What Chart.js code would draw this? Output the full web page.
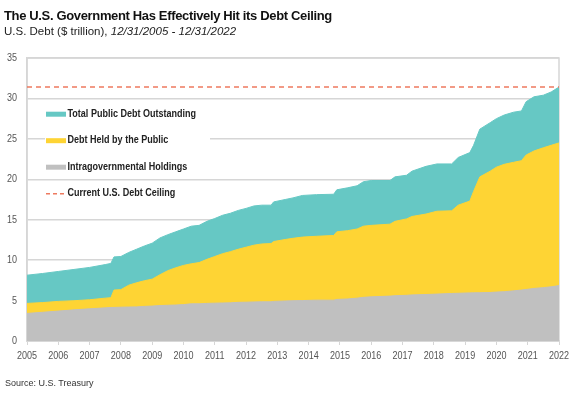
<!DOCTYPE html>
<html>
<head>
<meta charset="utf-8">
<script src="https://cdn.jsdelivr.net/npm/chart.js@4.4.1/dist/chart.umd.min.js"></script>
<style>
  html, body { margin: 0; padding: 0; background: #fff; }
  #wrap { position: relative; width: 573px; height: 399px; overflow: hidden; }
  #chart { position: absolute; left: 0; top: 0; }
  .title { position: absolute; left: 4px; top: 8px; font: bold 13px "Liberation Sans", Arial, sans-serif; letter-spacing: -0.35px; color: #111; white-space: nowrap; }
  .subtitle { position: absolute; left: 4px; top: 25px; font: 11.5px "Liberation Sans", Arial, sans-serif; color: #222; white-space: nowrap; }
  .source { position: absolute; left: 5px; top: 378px; font: 9px "Liberation Sans", Arial, sans-serif; color: #333; white-space: nowrap; }
</style>
</head>
<body>
<div id="wrap">
  <canvas id="chart" width="573" height="399"></canvas>
  <div class="title">The U.S. Government Has Effectively Hit its Debt Ceiling</div>
  <div class="subtitle">U.S. Debt ($ trillion), <i>12/31/2005 - 12/31/2022</i></div>
  <div class="source">Source: U.S. Treasury</div>
</div>
<script>
// x positions as decimal years
const dates = [
  2005.00, 2005.50, 2006.00, 2006.50, 2007.00, 2007.50, 2007.68, 2007.78, 2008.00, 2008.25,
  2008.50, 2008.75, 2009.00, 2009.25, 2009.50, 2009.75, 2010.00, 2010.25, 2010.50, 2010.75,
  2011.00, 2011.25, 2011.50, 2011.75, 2012.00, 2012.25, 2012.50, 2012.80, 2012.88, 2013.25,
  2013.50, 2013.80, 2014.25, 2014.80, 2014.90, 2015.25, 2015.55, 2015.75, 2016.00, 2016.60,
  2016.76, 2017.13, 2017.30, 2017.75, 2018.10, 2018.57, 2018.78, 2019.15, 2019.27, 2019.47,
  2019.80, 2020.00, 2020.25, 2020.55, 2020.80, 2020.95, 2021.20, 2021.50, 2021.75, 2022.00
];
// $ trillion
const totalDebt = [
  8.14, 8.35, 8.60, 8.85, 9.10, 9.45, 9.60, 10.40, 10.45, 10.95,
  11.35, 11.75, 12.10, 12.75, 13.15, 13.50, 13.85, 14.20, 14.30, 14.80,
  15.15, 15.55, 15.80, 16.15, 16.40, 16.70, 16.80, 16.80, 17.20, 17.50,
  17.70, 18.00, 18.10, 18.15, 18.70, 18.95, 19.20, 19.70, 19.85, 19.85,
  20.30, 20.50, 21.00, 21.60, 21.90, 21.90, 22.70, 23.30, 24.20, 26.20,
  27.00, 27.50, 27.95, 28.30, 28.45, 29.60, 30.20, 30.40, 30.80, 31.40
];
const publicDebt = [
  4.65, 4.75, 4.90, 4.98, 5.10, 5.30, 5.36, 6.30, 6.35, 6.90,
  7.20, 7.45, 7.65, 8.20, 8.70, 9.05, 9.35, 9.55, 9.70, 10.10,
  10.45, 10.80, 11.05, 11.35, 11.60, 11.85, 12.00, 12.05, 12.30, 12.55,
  12.70, 12.85, 12.95, 13.05, 13.50, 13.65, 13.85, 14.20, 14.30, 14.45,
  14.80, 15.10, 15.40, 15.70, 16.05, 16.10, 16.80, 17.30, 18.50, 20.30,
  21.00, 21.50, 21.85, 22.10, 22.30, 23.00, 23.50, 23.90, 24.20, 24.50
];
const intragovDebt = [
  3.41, 3.55, 3.70, 3.85, 3.98, 4.10, 4.15, 4.15, 4.18, 4.20,
  4.22, 4.28, 4.32, 4.38, 4.42, 4.45, 4.50, 4.60, 4.60, 4.65,
  4.68, 4.70, 4.72, 4.78, 4.80, 4.83, 4.85, 4.85, 4.90, 4.95,
  4.98, 5.00, 5.05, 5.05, 5.14, 5.20, 5.30, 5.40, 5.46, 5.55,
  5.60, 5.65, 5.70, 5.75, 5.80, 5.88, 5.90, 5.95, 5.96, 5.97,
  6.00, 6.05, 6.10, 6.20, 6.30, 6.37, 6.50, 6.60, 6.70, 6.85
];
const debtCeiling = 31.4;
const yearTicks = [2005, 2022];
const yTicks = [0, 35, 5];

const TEAL = '#66c8c4';
const YELLOW = '#fed434';
const GRAY = '#c0c0c0';
const DASH = '#ee7a5f';
const GRID = '#d6d6d6';
const NARROW = 0.82; // squeeze Liberation Sans to look like a narrow face

function pts(vals) {
  return dates.map((d, i) => ({ x: d, y: vals[i] }));
}

function narrowText(ctx, text, x, y, align) {
  ctx.save();
  ctx.translate(x, y);
  ctx.scale(NARROW, 1);
  ctx.textAlign = align;
  ctx.fillText(text, 0, 0);
  ctx.restore();
}

// legend drawn inside the plot, top-left
const legendItems = [
  { label: 'Total Public Debt Outstanding', color: TEAL, dash: false },
  { label: 'Debt Held by the Public', color: YELLOW, dash: false },
  { label: 'Intragovernmental Holdings', color: GRAY, dash: false },
  { label: 'Current U.S. Debt Ceiling', color: DASH, dash: true }
];

const framePlugin = {
  id: 'frame',
  beforeDatasetsDraw(chart) {
    const a = chart.chartArea, ctx = chart.ctx;
    ctx.save();
    ctx.strokeStyle = GRID;
    ctx.lineWidth = 1.5;
    ctx.strokeRect(a.left, a.top, a.right - a.left, a.bottom - a.top);
    ctx.restore();
  }
};

// tick labels, placed with the chart's own scales
const tickPlugin = {
  id: 'narrowTicks',
  afterDraw(chart) {
    const ctx = chart.ctx, xs = chart.scales.x, ys = chart.scales.y;
    ctx.save();
    ctx.font = '11px "Liberation Sans", Arial, sans-serif';
    ctx.fillStyle = '#555';
    ctx.textBaseline = 'middle';
    xs.ticks.forEach(t => {
      narrowText(ctx, String(t.value), xs.getPixelForValue(t.value), xs.bottom - 5.5, 'center');
    });
    ys.ticks.forEach(t => {
      narrowText(ctx, String(t.value), ys.right - 10, ys.getPixelForValue(t.value), 'right');
    });
    ctx.restore();
  }
};

const legendPlugin = {
  id: 'innerLegend',
  afterDraw(chart) {
    const ctx = chart.ctx;
    ctx.save();
    ctx.fillStyle = '#fff';
    ctx.fillRect(45, 101, 165, 73);
    ctx.font = 'bold 11px "Liberation Sans", Arial, sans-serif';
    ctx.textBaseline = 'middle';
    legendItems.forEach((it, i) => {
      const y = 113.7 + i * 26.5;
      if (it.dash) {
        ctx.strokeStyle = it.color;
        ctx.lineWidth = 1.5;
        ctx.setLineDash([4, 3]);
        ctx.beginPath();
        ctx.moveTo(46, y + 0.5);
        ctx.lineTo(66, y + 0.5);
        ctx.stroke();
        ctx.setLineDash([]);
      } else {
        ctx.fillStyle = it.color;
        ctx.fillRect(46, y - 2, 20, 5);
      }
      ctx.fillStyle = '#222';
      narrowText(ctx, it.label, 67.5, y, 'left');
    });
    ctx.restore();
  }
};

new Chart(document.getElementById('chart'), {
  type: 'line',
  data: {
    datasets: [
      {
        label: 'Current U.S. Debt Ceiling',
        data: [{ x: yearTicks[0], y: debtCeiling }, { x: yearTicks[1], y: debtCeiling }],
        borderColor: DASH, borderWidth: 1.5, borderDash: [5, 4],
        pointRadius: 0, fill: false
      },
      {
        label: 'Intragovernmental Holdings',
        data: pts(intragovDebt),
        borderColor: GRAY, backgroundColor: GRAY, borderWidth: 1,
        pointRadius: 0, fill: 'origin'
      },
      {
        label: 'Debt Held by the Public',
        data: pts(publicDebt),
        borderColor: YELLOW, backgroundColor: YELLOW, borderWidth: 1,
        pointRadius: 0, fill: 'origin'
      },
      {
        label: 'Total Public Debt Outstanding',
        data: pts(totalDebt),
        borderColor: TEAL, backgroundColor: TEAL, borderWidth: 1,
        pointRadius: 0, fill: 'origin'
      }
    ]
  },
  options: {
    responsive: false,
    animation: false,
    layout: { padding: { left: 0, top: 58, right: 14, bottom: 38 } },
    plugins: {
      legend: { display: false },
      tooltip: { enabled: false }
    },
    scales: {
      x: {
        type: 'linear',
        min: yearTicks[0],
        max: yearTicks[1],
        afterFit: s => { s.height = 20; },
        ticks: { stepSize: 1, autoSkip: false, maxRotation: 0, display: false },
        grid: { drawOnChartArea: false, tickLength: 4, color: GRID },
        border: { color: GRID, width: 1.5 }
      },
      y: {
        min: yTicks[0],
        max: yTicks[1],
        afterFit: s => { s.width = 27; },
        ticks: { stepSize: yTicks[2], display: false },
        grid: { color: GRID, lineWidth: 1.5, drawTicks: false },
        border: { color: GRID, width: 1.5 }
      }
    }
  },
  plugins: [framePlugin, tickPlugin, legendPlugin]
});
</script>
</body>
</html>
